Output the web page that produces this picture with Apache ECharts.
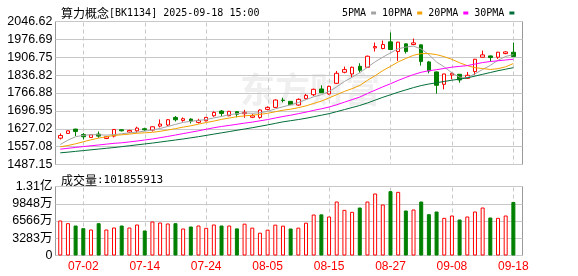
<!DOCTYPE html>
<html><head><meta charset="utf-8">
<script src="https://cdn.jsdelivr.net/npm/echarts@6/dist/echarts.min.js"></script>
<style>html,body{margin:0;padding:0;background:#fff}#c{width:578px;height:276px}</style>
</head><body><div id="c"></div>
<script>
const dates = ['06-27','06-30','07-01','07-02','07-03','07-04','07-07','07-08','07-09','07-10',
'07-11','07-14','07-15','07-16','07-17','07-18','07-21','07-22','07-23','07-24',
'07-25','07-28','07-29','07-30','07-31','08-01','08-04','08-05','08-06','08-07',
'08-08','08-11','08-12','08-13','08-14','08-15','08-18','08-19','08-20','08-21',
'08-22','08-25','08-26','08-27','08-28','08-29','09-01','09-02','09-03','09-04',
'09-05','09-08','09-09','09-10','09-11','09-12','09-15','09-16','09-17','09-18'];
const opens = [1590.3,1608.7,1625.6,1604.7,1593,1606,1589,1598.2,1623,1613.9,
1619,1627,1621.7,1637.4,1641.4,1671.4,1659.6,1664.9,1651.8,1658.3,
1678,1696.3,1678,1694,1686,1672,1671.4,1702.8,1710.7,1738.4,
1734.2,1719.8,1744.7,1760.3,1782.6,1763,1804.8,1848,1841.4,1871.5,
1867.6,1943.4,1940.8,1967,1929,1959.1,1956.5,1955.2,1888.5,1849.3,
1800.9,1837.5,1840.1,1824.4,1850.6,1906.8,1912,1906.8,1921.2,1926.4];
const closes = [1600.8,1619,1616.5,1595.6,1603.4,1598.2,1595.6,1624.3,1619,1620.4,
1629.6,1623,1634.8,1645.3,1662.3,1662.3,1666.2,1657,1659.6,1671.4,
1691,1687,1695,1684,1691,1678,1700.2,1710.7,1739.4,1738,
1721.1,1742,1757.7,1781.3,1768.2,1793,1844,1858.4,1867.6,1855.8,
1910.7,1948.6,1956.5,1936.9,1965.7,1929,1963,1889.8,1853.2,1797,
1841.4,1844,1817.9,1836.2,1899,1916,1905.5,1926.4,1927.7,1909.4];
const lows = [1585,1607,1598.2,1585,1591.5,1591.6,1586.4,1593,1616.5,1610,
1611.3,1619,1616.5,1632.2,1637.4,1655.7,1654.4,1647.9,1647.9,1656,
1674,1676.6,1676,1672,1670,1668.8,1666.2,1698.9,1708,1730.3,
1720,1717.2,1740.7,1755.1,1766.9,1760.3,1802.2,1844,1827,1846.7,
1866.3,1929,1938.2,1935.6,1892.4,1921.2,1953.9,1874.1,1844,1764.3,
1781.3,1820.5,1807.4,1821.8,1837.5,1905.5,1889.8,1900.3,1918.6,1908.1];
const highs = [1608.7,1620.5,1627,1610,1605,1616.5,1598,1625.5,1625.6,1623,
1634.8,1630.9,1636,1663.6,1664.9,1676.6,1671.4,1667.5,1666,1672.5,
1695,1700.2,1697,1695.5,1701,1684.5,1702.8,1714.6,1742,1748.6,
1735.5,1746,1763,1783.9,1797,1795.6,1853.2,1870.2,1870.2,1883.3,
1913.3,1964.3,1972.2,2003.6,1967,1960.4,1980,1956.5,1892.4,1850.6,
1842.7,1849.3,1841.4,1849.3,1900.3,1933,1913.3,1927.7,1930.3,1964.3];
// volume in 万 (10k shares)
const volumes = [6661,6150,5709,5200,4948,6150,4948,5328,5709,5328,
5899,4758,6470,6280,6090,6150,5138,5519,5709,5270,
5899,5709,5709,5160,6060,5300,4340,4910,5870,5680,
5138,5297,6250,7800,7830,7422,10276,8690,8310,9134,
10276,11799,9705,12243,12116,8564,8754,10276,7866,8373,
7168,7612,6851,7422,8373,9134,7231,7168,7612,10185.5913];
const volUp = [1,1,0,0,1,0,1,1,0,1, 1,0,1,1,1,0,1,0,1,1, 1,0,1,0,1,1,1,1,1,1,
0,1,1,1,0,1,1,1,1,0, 1,1,1,0,1,0,1,0,0,0, 1,1,0,1,1,1,0,1,1,0];
const ma5 = [1565.5,1582.5,1596,1601,1604,1603.5,1602,1604,1607.5,1611,
1614,1617.5,1622,1628,1636,1644,1652,1656,1660,1663,
1669.5,1675,1682,1686,1689,1687.5,1689.5,1695,1705,1713,
1720.5,1729.5,1741,1752,1760,1773,1791,1812,1828.5,1846.5,
1867.5,1889,1907,1924,1940,1946.5,1950.5,1939,1917,1888,
1869,1845.5,1829,1827,1842,1859,1875,1895,1910,1917];
const ma10 = [1556.4,1561.6,1568.1,1576,1583.8,1590.4,1595.6,1600.8,1603.4,1606,
1609.5,1611,1613,1617,1622,1627.5,1633.5,1638.5,1645,1651.5,
1657,1663.6,1669,1674,1677.5,1680,1683,1687.5,1693.5,1699.5,
1703.5,1709.5,1716.5,1726,1735,1747.5,1760.5,1773,1784,1796.5,
1816.5,1834.5,1854.5,1871,1888.5,1902,1914.5,1921,1921,1917,
1909,1898.5,1885,1874,1866,1862.5,1859,1862,1869.5,1882];
const ma20 = [1547,1550.5,1554,1557.2,1560.4,1563.6,1566.8,1570,1572,1575.5,
1579,1583,1587,1592,1597,1602.5,1608,1613.5,1619,1625,
1631,1636,1640,1644.5,1649,1653,1658,1663,1669,1675,
1680,1686,1692,1699,1705,1712,1721,1731,1741,1751,
1765,1778,1791,1803,1816,1828,1839,1848,1854,1858,
1863,1868,1871,1874,1880,1886,1890,1893,1896,1899];
const ma30 = [1532.8,1535.5,1538.5,1541.5,1544.5,1547.5,1550.5,1553.5,1557,1560.5,
1564,1567.5,1571,1575,1579,1583,1587,1591.5,1596,1601,
1606,1611,1616,1621,1626,1631,1636.5,1642,1648,1654,
1658.5,1663,1668,1674,1680,1686,1694,1702,1710,1718,
1728,1739,1750,1760,1770,1779,1788,1796,1802,1807,
1812,1817,1821,1826,1833,1840,1847,1854,1860,1866];
const priceTicks = [1487.15,1557.08,1627.02,1696.95,1766.88,1836.82,1906.75,1976.69,2046.62];
const volTicks = [0,3282.75,6565.5,9848.25,13131];
const volTickLabels = ['0','3283万','6566万','9848万','1.31亿'];
const xLabelDates = ['07-02','07-14','07-24','08-05','08-15','08-27','09-08','09-18'];
const maNames = ['5PMA','10PMA','20PMA','30PMA'];
const maColors = ['#a3a3a3','#f2a100','#ff00ff','#006e38'];

const chart = echarts.init(document.getElementById('c'));
const idx = dates.map((d, i) => i);
const xTicks = xLabelDates.map(d => dates.indexOf(d));
const xMin = -0.62, xMax = 60.19;
const sans = 'Liberation Sans, Arial, "Noto Sans CJK SC", sans-serif';
const mono = '"DejaVu Sans Mono", monospace';
const cjk = '"Noto Sans CJK SC", sans-serif';
const pMin = priceTicks[0], pMax = priceTicks[priceTicks.length - 1];
const vMin = volTicks[0], vMax = volTicks[volTicks.length - 1];

function xAxis(gridIndex, labels) {
  return {
    type: 'value', gridIndex, min: xMin, max: xMax,
    axisLine: {show: false},
    axisTick: {show: false},
    axisLabel: {show: labels, customValues: xTicks, color: '#ff0000', fontSize: 12,
      fontFamily: sans, margin: 5, formatter: v => dates[Math.round(v)]},
    splitLine: {show: false}
  };
}
const splitSolid = {show: true, lineStyle: {color: '#c8c8c8', width: 1}};
// dashed vertical date grid lines: one short solid piece per item, placed via the axes' scales
const DASH = 4, GAP = 3;
function dateLines(axisIndex, lo, hi, pieces) {
  const items = [];
  xTicks.forEach(v => { for (let k = 0; k < pieces; k++) items.push([v, lo, k]); });
  return {
    type: 'custom', xAxisIndex: axisIndex, yAxisIndex: axisIndex,
    data: items,
    renderItem: (params, api) => {
      const x = api.value(0), k = api.value(2);
      const a = api.coord([x, hi]);
      const b = api.coord([x, lo]);
      const px = Math.round(a[0]) + 0.5;
      const y1 = a[1] + 1 + k * (DASH + GAP);
      if (y1 >= b[1] - 1) return null;
      const y2 = Math.min(y1 + DASH, b[1] - 1);
      return {type: 'line', shape: {x1: px, y1: y1, x2: px, y2: y2},
        style: {stroke: '#c8c8c8', lineWidth: 1}};
    }
  };
}

const option = {
  animation: false,
  title: [
    {text: '{c|算力概念}{a|[BK1134] 2025-09-18 15:00}', left: 56, top: 2,
     textStyle: {fontWeight: 'normal', rich: {c: {fontFamily: cjk, fontSize: 12, color: '#000', fontWeight: 'normal'},
                        a: {fontFamily: mono, fontSize: 10, color: '#000', fontWeight: 'normal'}}}},
    {text: '{c|成交量}{a|:101855913}', left: 56, top: 169,
     textStyle: {fontWeight: 'normal', rich: {c: {fontFamily: cjk, fontSize: 12, color: '#000', fontWeight: 'normal'},
                        a: {fontFamily: mono, fontSize: 11, color: '#000', fontWeight: 'normal'}}}}
  ],
  legend: {
    left: 337, top: 3, align: 'right', icon: 'rect', itemWidth: 5, itemHeight: 3, itemGap: 6,
    textStyle: {fontFamily: mono, fontSize: 10, color: '#000'}, data: maNames
  },
  graphic: [{type: 'text', left: 240, top: 72, z: -1,
    style: {text: '东方财富', fill: '#efefef', font: 'bold 35px "Noto Sans CJK SC"'}}],
  grid: [
    {left: 55.5, top: 21.5, width: 467, height: 143, show: true, borderColor: '#999', borderWidth: 1},
    {left: 55.5, top: 186.5, width: 467, height: 69, show: true, borderColor: '#999', borderWidth: 1}
  ],
  xAxis: [xAxis(0, false), xAxis(1, true)],
  yAxis: [
    {type: 'value', gridIndex: 0, min: pMin, max: pMax,
     interval: (pMax - pMin) / (priceTicks.length - 1),
     axisLine: {show: false}, axisTick: {show: false},
     axisLabel: {margin: 3, fontSize: 12.5, color: '#000', fontFamily: sans,
       formatter: v => priceTicks.reduce((a, b) => Math.abs(b - v) < Math.abs(a - v) ? b : a).toFixed(2)},
     splitLine: splitSolid},
    {type: 'value', gridIndex: 1, min: vMin, max: vMax, interval: volTicks[1],
     axisLine: {show: false}, axisTick: {show: false},
     axisLabel: {margin: 3, fontSize: 12.5, color: '#000', fontFamily: sans,
       formatter: v => volTickLabels[Math.round(v / volTicks[1])]},
     splitLine: splitSolid}
  ],
  series: [
    dateLines(0, pMin, pMax, 21),
    dateLines(1, vMin, vMax, 10),
    {type: 'candlestick', xAxisIndex: 0, yAxisIndex: 0, barWidth: 4, z: 3,
     data: idx.map(i => [i, opens[i], closes[i], lows[i], highs[i]]),
     itemStyle: {color: '#ffffff', color0: '#008000', borderColor: '#ff0000', borderColor0: '#008000', borderWidth: 1}},
    ...[ma5, ma10, ma20, ma30].map((arr, k) => ({
      type: 'line', name: maNames[k], xAxisIndex: 0, yAxisIndex: 0, showSymbol: false, symbol: 'none', z: 4,
      data: idx.map(i => [i, arr[i]]),
      lineStyle: {color: maColors[k], width: 1}, itemStyle: {color: maColors[k]}
    })),
    {type: 'bar', xAxisIndex: 1, yAxisIndex: 1, barWidth: 4, z: 3,
     data: idx.map(i => ({value: [i, volumes[i]],
       itemStyle: volUp[i] ? {color: '#ffffff', borderColor: '#ff0000', borderWidth: 1}
                           : {color: '#008000', borderColor: '#008000', borderWidth: 1}}))}
  ]
};
chart.setOption(option);
</script>
</body></html>
